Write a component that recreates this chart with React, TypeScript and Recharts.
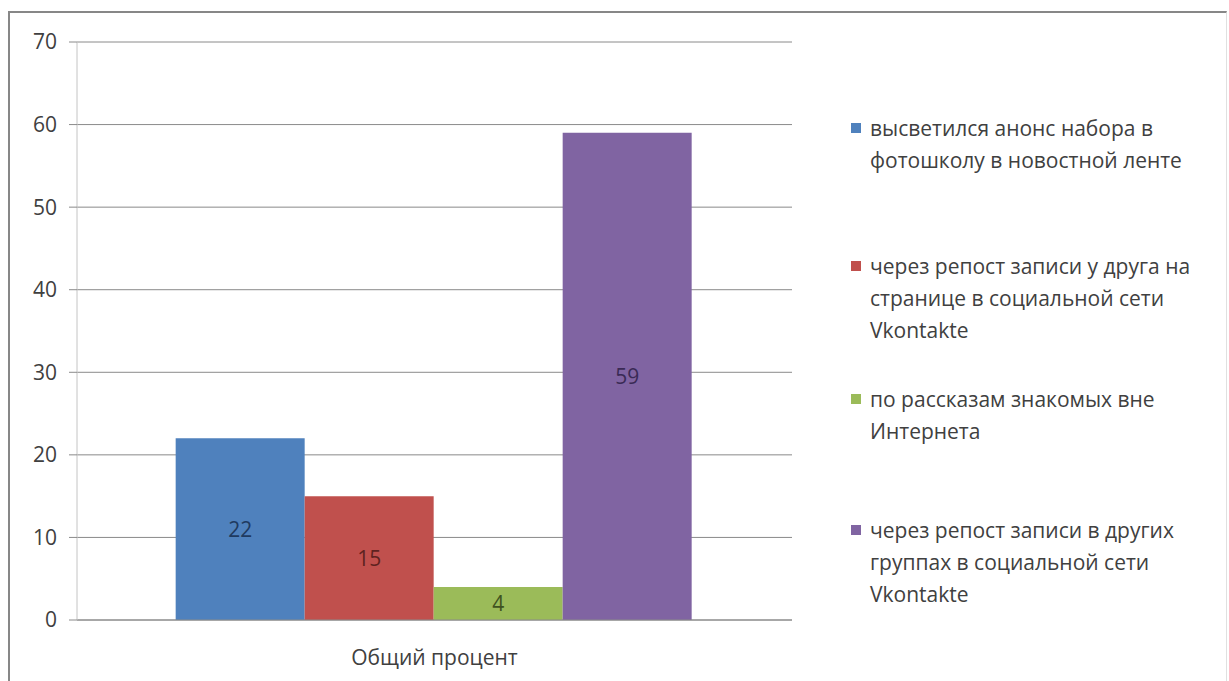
import React from 'react';
import { BarChart, Bar, XAxis, YAxis, CartesianGrid, Legend, LabelList } from 'recharts';

const categories = ['Общий процент'];
const seriesNames = [
  'высветился анонс набора в\nфотошколу в новостной ленте',
  'через репост записи у друга на\nстранице в социальной сети\nVkontakte',
  'по рассказам знакомых вне\nИнтернета',
  'через репост записи в других\nгруппах в социальной сети\nVkontakte',
];
const newsFeed = [22];
const friendRepost = [15];
const offline = [4];
const groupRepost = [59];
const yTicks = [0, 10, 20, 30, 40, 50, 60, 70];

const seriesKeys = ['s0', 's1', 's2', 's3'];
const colors = ['#4F81BD', '#C0504D', '#9BBB59', '#8064A2'];
const labelColors = ['#1F3A60', '#5E2220', '#3F5220', '#3A2A55'];
const FONT = '"Open Sans", sans-serif';
const itemHeights = [138, 133, 131, 110];

const data = categories.map((name, i) => ({
  name,
  s0: newsFeed[i],
  s1: friendRepost[i],
  s2: offline[i],
  s3: groupRepost[i],
}));

function LegendBox(props: any) {
  const items = [...(props.payload || [])].sort(
    (a: any, b: any) => seriesKeys.indexOf(a.dataKey) - seriesKeys.indexOf(b.dataKey)
  );
  return (
    <div style={{ fontFamily: FONT, fontSize: 21, color: '#404040' }}>
      {items.map((it: any, i: number) => (
        <div key={i} style={{ position: 'relative', height: itemHeights[i], paddingLeft: 25 }}>
          <span
            style={{
              position: 'absolute',
              left: 6,
              top: 11,
              width: 10,
              height: 10,
              background: it.color,
            }}
          />
          <div style={{ whiteSpace: 'pre-line', lineHeight: '32px', textAlign: 'left' }}>{it.value}</div>
        </div>
      ))}
    </div>
  );
}

export default function App() {
  return (
    <div style={{ position: 'absolute', left: 0, top: 0, width: 1229, height: 681, background: '#fff', overflow: 'hidden' }}>
      <div
        style={{
          position: 'absolute',
          left: 8,
          top: 11,
          width: 1216,
          height: 700,
          borderTop: '2px solid #878787',
          borderLeft: '2px solid #878787',
          borderRight: '1px solid #e0e0e0',
        }}
      />
      <BarChart
        width={1229}
        height={681}
        data={data}
        margin={{ top: 42, right: 437, bottom: 21, left: 0 }}
        barGap={0}
        barCategoryGap="13.8%"
        style={{ fontFamily: FONT }}
      >
        <CartesianGrid horizontal vertical={false} stroke="#8a8a8a" strokeOpacity={1} />
        <XAxis
          dataKey="name"
          height={40}
          axisLine={{ stroke: '#8a8a8a' }}
          tickLine={false}
          tick={{ fill: '#404040', fontSize: 21 }}
          tickMargin={24}
        />
        <YAxis
          width={77}
          domain={[0, 70]}
          ticks={yTicks}
          interval={0}
          axisLine={{ stroke: '#c4c4c4' }}
          tickLine={{ stroke: '#8a8a8a' }}
          tickSize={8}
          tickMargin={12}
          tick={{ fill: '#404040', fontSize: 21 }}
        />
        <Legend
          layout="horizontal"
          verticalAlign="middle"
          align="center"
          wrapperStyle={{ left: 845, top: 112, width: 384 }}
          content={<LegendBox />}
        />
        {seriesKeys.map((key, i) => (
          <Bar key={key} dataKey={key} name={seriesNames[i]} fill={colors[i]} isAnimationActive={false}>
            <LabelList dataKey={key} position="center" fill={labelColors[i]} fontSize={21} />
          </Bar>
        ))}
      </BarChart>
    </div>
  );
}
